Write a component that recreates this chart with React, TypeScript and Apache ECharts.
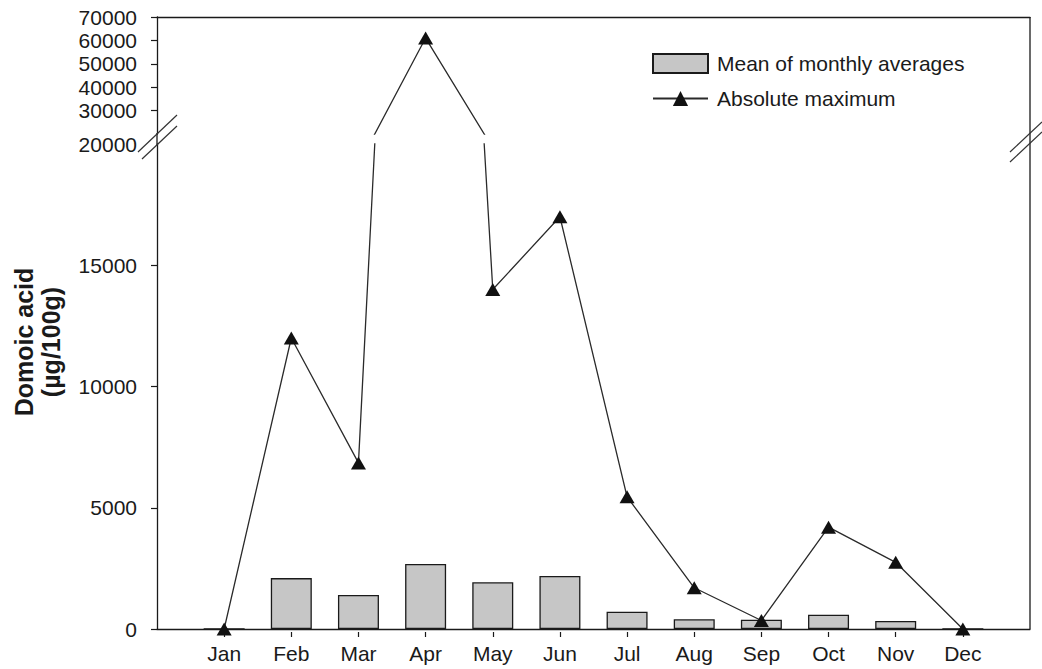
import React, { useEffect, useRef } from "react";
import * as echarts from "echarts";

const months = ["Jan", "Feb", "Mar", "Apr", "May", "Jun", "Jul", "Aug", "Sep", "Oct", "Nov", "Dec"];
const meanMonthly = [0, 2100, 1400, 2680, 1925, 2185, 715, 400, 380, 590, 330, 0];
const absoluteMax = [0, 12000, 6850, 61000, 14000, 17000, 5450, 1700, 350, 4200, 2750, 0];
const lowerTicks = [0, 5000, 10000, 15000];
const upperTicks = [30000, 40000, 50000, 60000, 70000];
const monthPositions = months.map((_, i) => i + 1);

const FONT = '"Liberation Sans", Arial, Helvetica, sans-serif';
const INK = "#1a1a1a";

export default function App() {
  const ref = useRef<HTMLDivElement>(null);

  useEffect(() => {
    if (!ref.current) return;
    const chart = echarts.init(ref.current, null, { renderer: "svg" });

    const barData = meanMonthly.map((v, i) => [i + 1, v]);
    const lineData = absoluteMax.map((v, i) => [i + 1, v]);
    const axisLine = { show: true, lineStyle: { color: INK, width: 1.3 } };
    const labelStyle = { fontSize: 21, color: INK, fontFamily: FONT };

    const lineSeries = (xi: number, yi: number) => ({
      type: "line",
      name: "Absolute maximum",
      xAxisIndex: xi,
      yAxisIndex: yi,
      data: lineData,
      clip: true,
      symbol: "triangle",
      symbolSize: [15, 13],
      itemStyle: { color: "#111" },
      lineStyle: { color: "#2a2a2a", width: 1.3 },
      z: 3,
    });

    const breakLine = (x1: number, y1: number, x2: number, y2: number) => ({
      type: "line",
      shape: { x1, y1, x2, y2 },
      style: { stroke: "#333", lineWidth: 1.2 },
      z: 10,
    });

    chart.setOption({
      animation: false,
      backgroundColor: "#fff",
      textStyle: { fontFamily: FONT },
      grid: [
        { left: 157, right: 12, top: 144, bottom: 40 },
        { left: 157, right: 12, top: 17, height: 117 },
      ],
      xAxis: [
        {
          gridIndex: 0,
          type: "value",
          min: 0,
          max: 13,
          interval: 1,
          axisLine,
          axisTick: { show: false },
          axisLabel: { show: false },
          splitLine: { show: false },
        },
        {
          gridIndex: 0,
          type: "value",
          min: 0,
          max: 13,
          interval: 1,
          position: "bottom",
          offset: 3,
          axisLine: { show: false },
          axisTick: { show: true, length: 5, customValues: monthPositions, lineStyle: { color: INK, width: 1.2 } },
          axisLabel: {
            ...labelStyle,
            margin: 11,
            lineHeight: 21,
            customValues: monthPositions,
            formatter: (v: number) => months[Math.round(v) - 1] ?? "",
          },
          splitLine: { show: false },
        },
        {
          gridIndex: 1,
          type: "value",
          min: 0,
          max: 13,
          interval: 1,
          position: "top",
          axisLine,
          axisTick: { show: false },
          axisLabel: { show: false },
          splitLine: { show: false },
        },
      ],
      yAxis: [
        {
          gridIndex: 0,
          type: "value",
          min: 0,
          max: 20000,
          interval: 5000,
          axisLine,
          axisTick: { show: true, length: 6, customValues: lowerTicks, lineStyle: { color: INK, width: 1.2 } },
          axisLabel: { ...labelStyle, margin: 20, formatter: (v: number) => String(v) },
          splitLine: { show: false },
        },
        {
          gridIndex: 1,
          type: "value",
          min: 20000,
          max: 70000,
          interval: 10000,
          axisLine,
          axisTick: { show: true, length: 6, customValues: upperTicks, lineStyle: { color: INK, width: 1.2 } },
          axisLabel: { ...labelStyle, margin: 20, customValues: upperTicks, formatter: (v: number) => String(v) },
          splitLine: { show: false },
        },
      ],
      legend: {
        orient: "vertical",
        left: 647,
        top: 48,
        itemWidth: 55,
        itemHeight: 19,
        itemGap: 14,
        selectedMode: false,
        data: [{ name: "Mean of monthly averages", icon: "rect" }, { name: "Absolute maximum" }],
        textStyle: { ...labelStyle, lineHeight: 19, padding: [0, 0, 0, 4] },
      },
      series: [
        {
          type: "bar",
          name: "Mean of monthly averages",
          xAxisIndex: 0,
          yAxisIndex: 0,
          data: barData,
          barWidth: 41,
          itemStyle: { color: "#c6c6c6", borderColor: INK, borderWidth: 1.3 },
          z: 2,
        },
        lineSeries(0, 0),
        lineSeries(2, 1),
      ],
      graphic: [
        { type: "line", shape: { x1: 1030, y1: 17, x2: 1030, y2: 629 }, style: { stroke: INK, lineWidth: 1.3 }, z: 5 },
        { type: "line", shape: { x1: 157, y1: 133, x2: 157, y2: 145 }, style: { stroke: INK, lineWidth: 1.3 }, z: 5 },
        breakLine(138, 152, 177, 115),
        breakLine(142, 159, 177, 126),
        breakLine(1010, 152, 1042, 122),
        breakLine(1010, 162, 1042, 132),
        {
          type: "text",
          x: 37,
          y: 342,
          rotation: Math.PI / 2,
          style: {
            text: "Domoic acid\n(µg/100g)",
            fontSize: 25,
            fontWeight: "bold",
            fontFamily: FONT,
            fill: INK,
            align: "center",
            verticalAlign: "middle",
            lineHeight: 27,
          },
        },
      ],
    });

    return () => chart.dispose();
  }, []);

  return <div ref={ref} style={{ position: "fixed", left: 0, top: 0, width: 1042, height: 669 }} />;
}
